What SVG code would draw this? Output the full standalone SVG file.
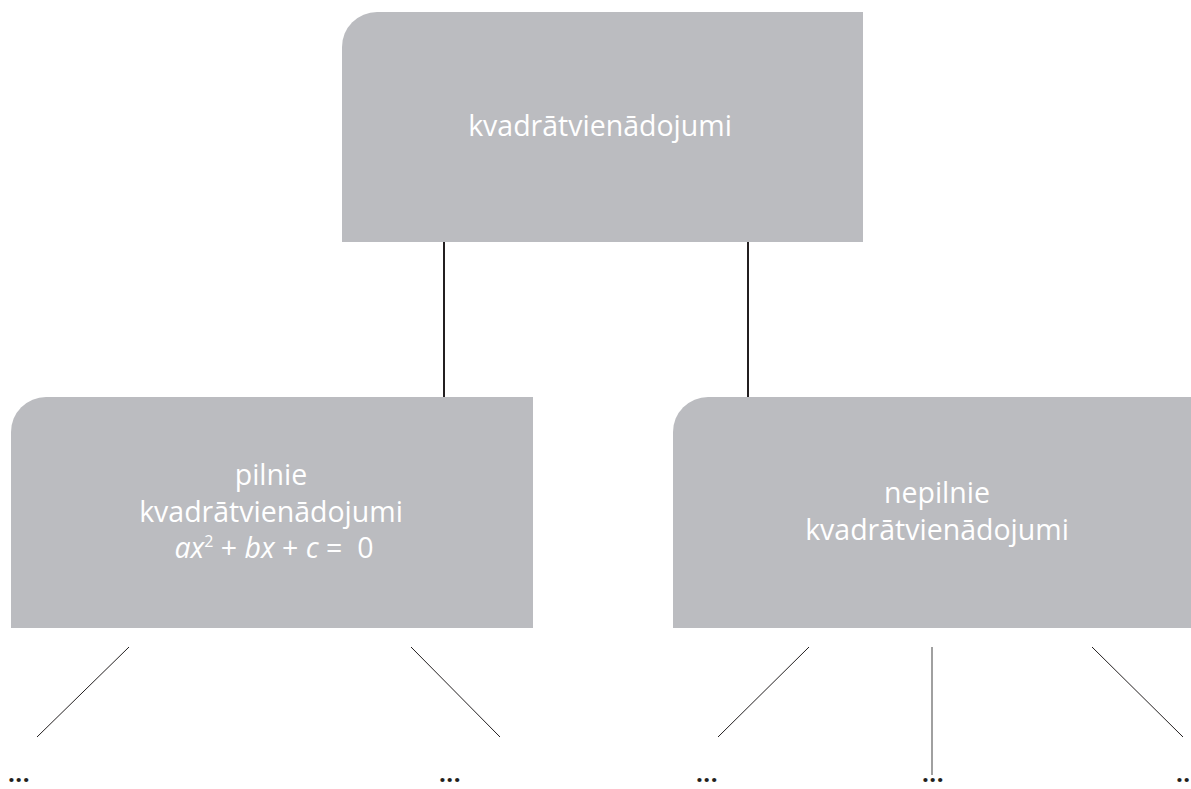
<svg xmlns="http://www.w3.org/2000/svg" width="1191" height="789" viewBox="0 0 1191 789">
<style>
.box{fill:#bbbcc0}
.lbl{fill:#ffffff;font-family:"Open Sans","Noto Sans",sans-serif;font-size:28.5px;text-anchor:middle}
.it{font-style:italic}
.c{stroke:#231f20;stroke-width:2;fill:none}
.t{stroke:#231f20;stroke-width:1;fill:none}
.g{stroke:#808080;stroke-width:1.5;fill:none}
.dots{fill:#231f20;font-family:"Open Sans","Noto Sans",sans-serif;font-size:24px;font-weight:bold;letter-spacing:0.5px}
</style>
<rect width="1191" height="789" fill="#ffffff"/>
<g id="connectors">
<line class="c" x1="444" y1="242" x2="444" y2="397"/>
<line class="c" x1="748" y1="242" x2="748" y2="397"/>
<line class="t" x1="129" y1="647" x2="37" y2="737"/>
<line class="t" x1="411" y1="647" x2="500" y2="737"/>
<line class="t" x1="809" y1="647" x2="718" y2="737"/>
<line class="g" x1="932" y1="647" x2="932" y2="775"/>
<line class="t" x1="1092" y1="647" x2="1183" y2="737"/>
</g>
<g id="root">
<path class="box" d="M342,242 V47 A35,35 0 0 1 377,12 H863 V242 Z"/>
<text class="lbl" x="600" y="136">kvadrātvienādojumi</text>
</g>
<g id="full">
<path class="box" d="M11,628 V432 A35,35 0 0 1 46,397 H533 V628 Z"/>
<text class="lbl" x="271" y="485">pilnie</text>
<text class="lbl" x="271" y="522">kvadrātvienādojumi</text>
<text class="lbl" x="274" y="558" xml:space="preserve"><tspan class="it">ax</tspan><tspan font-size="16" dy="-11">2</tspan><tspan dy="11"> + </tspan><tspan class="it">bx</tspan> + <tspan class="it">c</tspan> =  0</text>
</g>
<g id="partial">
<path class="box" d="M673,628 V432 A35,35 0 0 1 708,397 H1191 V628 Z"/>
<text class="lbl" x="937" y="503">nepilnie</text>
<text class="lbl" x="937" y="540">kvadrātvienādojumi</text>
</g>
<g id="leaf1"><text class="dots" x="8" y="782">...</text></g>
<g id="leaf2"><text class="dots" x="439" y="782">...</text></g>
<g id="leaf3"><text class="dots" x="696" y="782">...</text></g>
<g id="leaf4"><text class="dots" x="922" y="782">...</text></g>
<g id="leaf5"><text class="dots" x="1176" y="782">...</text></g>
</svg>
